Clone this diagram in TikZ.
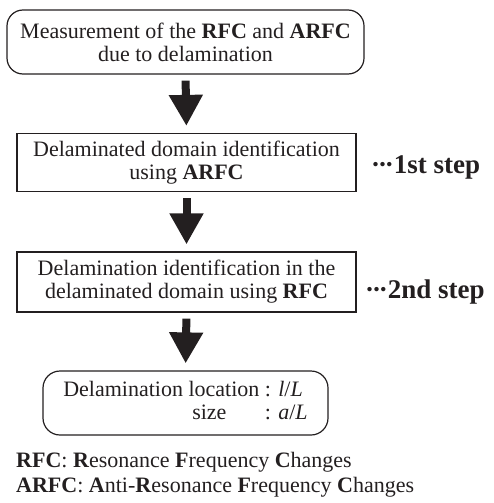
\documentclass[tikz,border=0pt]{standalone}
\usepackage{fontspec}
\setmainfont{Liberation Serif}
\usetikzlibrary{arrows.meta}
\definecolor{ink}{HTML}{231F20}
\tikzset{
  box/.style={draw=ink, line width=1.2pt, align=center, inner sep=0pt,
    font=\fontsize{22}{23}\selectfont, text=ink},
  roundbox/.style={box, rounded corners=16pt},
  steplabel/.style={anchor=west, inner sep=0pt, text=ink,
    font=\fontsize{27}{28}\selectfont\bfseries},
  legend/.style={anchor=base west, inner sep=0pt, text=ink,
    font=\fontsize{22}{23}\selectfont},
  bigarrow/.style={draw=ink, line width=8pt,
    -{Triangle[width=32pt,length=31pt]}, shorten <=6pt, shorten >=7pt}
}
\newcommand{\dotsmid}{\textperiodcentered\kern-0.08em\textperiodcentered\kern-0.08em\textperiodcentered}
\begin{document}
\begin{tikzpicture}[x=1pt,y=-1pt]
  \useasboundingbox (0,0) rectangle (493,503);

  \node[roundbox, minimum width=357pt, minimum height=64pt] (b1) at (185.5,42)
    {Measurement of the \textbf{RFC} and \textbf{ARFC}\\due to delamination};
  \node[box, minimum width=339pt, minimum height=58pt] (b2) at (186.5,162.5)
    {Delaminated domain identification\\using \textbf{ARFC}};
  \node[box, minimum width=339pt, minimum height=60pt] (b3) at (186.5,282)
    {Delamination identification in the\\delaminated domain using \textbf{RFC}};
  \node[roundbox, rounded corners=17pt, minimum width=285pt, minimum height=64pt] (b4) at (185.5,403)
    {\begin{tabular}{@{}l@{}l@{}}
      Delamination location & \ : \textit{l}/\textit{L}\\
      \hspace*{129pt}size & \ : \textit{a}/\textit{L}
    \end{tabular}};

  \node[steplabel] (s1) at (371,167) {\dotsmid1st step};
  \node[steplabel] (s2) at (365,292) {\dotsmid2nd step};

  \draw[bigarrow] (b1.south) -- (b2.north);
  \draw[bigarrow] (b2.south) -- (b3.north);
  \draw[bigarrow] (b3.south) -- (b4.north);

  \node[legend] (l1) at (16,467)
    {\textbf{RFC}: \textbf{R}esonance \textbf{F}requency \textbf{C}hanges};
  \node[legend] (l2) at (16,492)
    {\textbf{ARFC}: \textbf{A}nti-\textbf{R}esonance \textbf{F}requency \textbf{C}hanges};
\end{tikzpicture}
\end{document}
